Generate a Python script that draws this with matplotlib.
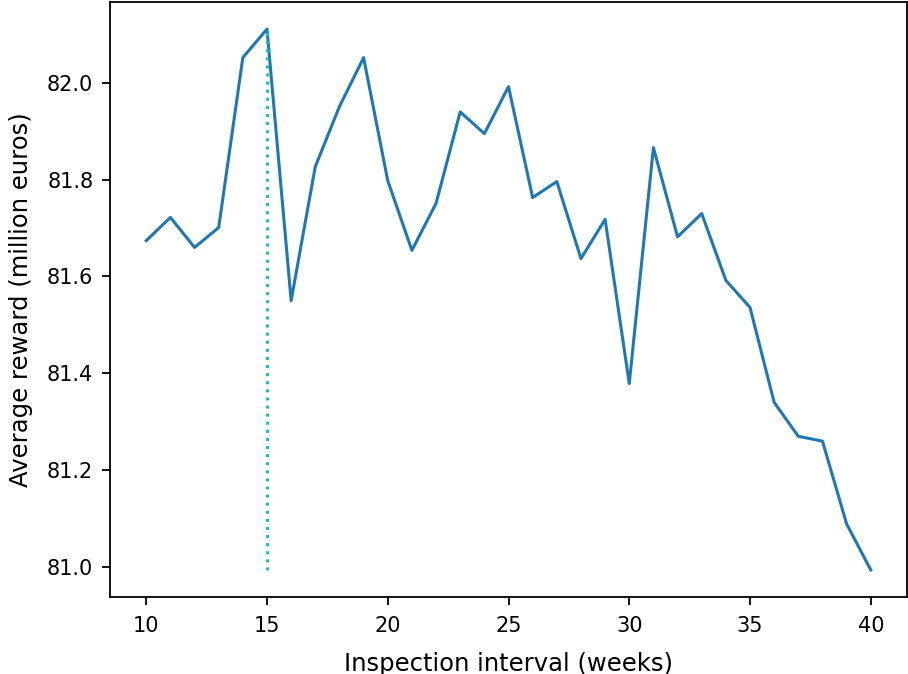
import matplotlib
matplotlib.use('Agg')
import matplotlib.pyplot as plt
import numpy as np

# inspection interval in weeks
intervals = list(range(10, 41))
# average reward (million euros)
avg_reward = [81.674, 81.722, 81.660, 81.701, 82.052, 82.111, 81.550, 81.827,
              81.951, 82.052, 81.798, 81.654, 81.751, 81.940, 81.895, 81.992,
              81.763, 81.796, 81.637, 81.718, 81.379, 81.866, 81.682, 81.730,
              81.592, 81.536, 81.340, 81.270, 81.260, 81.089, 80.994]

best = intervals[int(np.argmax(avg_reward))]

fig = plt.figure(figsize=(9.08, 6.74), dpi=100)
ax = fig.add_axes([110 / 908, 77 / 674, 797 / 908, 595 / 674])

ax.plot(intervals, avg_reward, color='#1f77b4', linewidth=2.2)
ax.vlines(best, min(avg_reward), max(avg_reward), colors='#20c0b0',
          linestyles='dotted', linewidth=2.2)

ax.set_xlabel('Inspection interval (weeks)', fontsize=17.5, labelpad=11)
ax.set_ylabel('Average reward (million euros)', fontsize=17.5, labelpad=10)
ax.tick_params(labelsize=15, width=1.3, length=6, pad=6)
ax.tick_params(axis='x', pad=8)
for s in ax.spines.values():
    s.set_linewidth(1.3)
ax.set_yticks([81.0, 81.2, 81.4, 81.6, 81.8, 82.0])

fig.savefig('out.png', dpi=100)
